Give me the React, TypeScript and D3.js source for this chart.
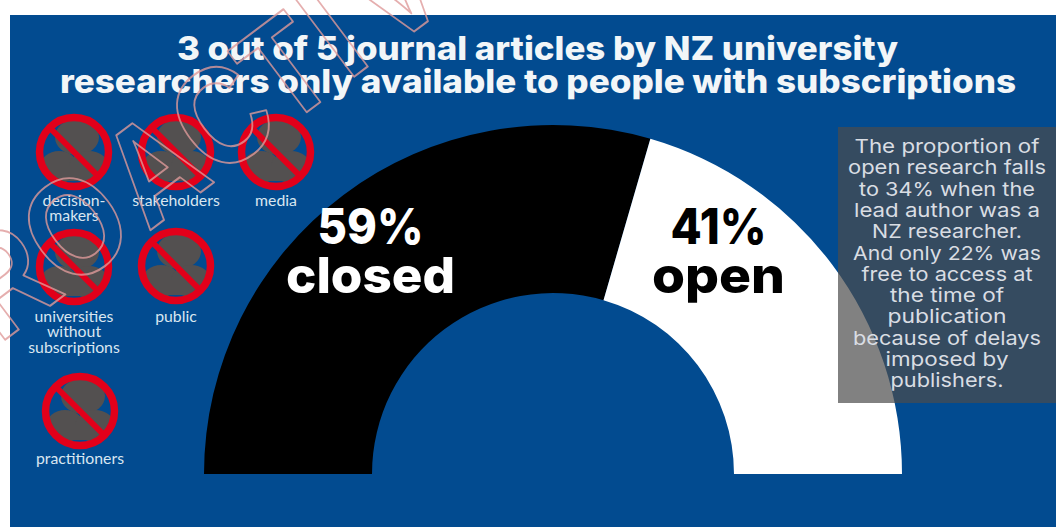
import React from "react";
import * as d3 from "d3";

const width = 1056;
const height = 527;

// Access shares for journal articles
const accessLabels = ["closed", "open"];
const accessShares = [59, 41];
const accessFill = ["#000000", "#ffffff"];
const accessInk = ["#ffffff", "#000000"];

// Audiences shut out by subscriptions
const audienceNames = ["decision-\nmakers", "stakeholders", "media", "universities\nwithout\nsubscriptions", "public", "practitioners"];
const audienceX = [74, 176, 276, 74, 176, 80];
const audienceY = [152, 152, 152, 267, 266, 411];
const audienceLabelY = [206, 206, 206, 322, 322, 464];

const titleLines = [
  "3 out of 5 journal articles by NZ university",
  "researchers only available to people with subscriptions",
];
const noteLines = [
  "The proportion of",
  "open research falls",
  "to 34% when the",
  "lead author was a",
  "NZ researcher.",
  "And only 22% was",
  "free to access at",
  "the time of",
  "publication",
  "because of delays",
  "imposed by",
  "publishers.",
];
const noteWidths = [185, 198, 176, 186, 150, 188, 171, 114, 119, 188, 123, 113];

// Stamp letters and their distance along the stamp's baseline
const stampLetters = ["R", "O", "A", "C", "T", "I", "V"];
const stampOffsets = [-187, -101, 0, 85, 171, 250, 302];

const HEADING_FONT = "Inter, 'Open Sans', sans-serif";
const LABEL_FONT = "Lato, sans-serif";

function NoEntryIcon({ cx, cy, id }: { cx: number; cy: number; id: string }) {
  const r = 34.5;
  return (
    <g transform={`translate(${cx},${cy})`}>
      <clipPath id={id}>
        <circle r={r} />
      </clipPath>
      <g clipPath={`url(#${id})`} fill="#535050">
        <ellipse cx={3} cy={-15} rx={22} ry={18} />
        <ellipse cx={-15} cy={15} rx={19} ry={16} />
        <ellipse cx={15} cy={15} rx={20} ry={16} />
        <rect x={-22} y={14} width={44} height={15} />
      </g>
      <circle r={r} fill="none" stroke="#e2001a" strokeWidth={7.5} />
      <line x1={-24} y1={-24} x2={24} y2={24} stroke="#e2001a" strokeWidth={6} />
    </g>
  );
}

export default function App() {
  const cx = 553;
  const cy = 474;
  const outer = 349;
  const inner = 181;

  const pie = d3
    .pie<number>()
    .sort(null)
    .startAngle(-Math.PI / 2)
    .endAngle(Math.PI / 2);
  const arcPath = d3.arc<d3.PieArcDatum<number>>().innerRadius(inner).outerRadius(outer);
  const arcs = pie(accessShares);

  const bigLabelPos = [
    { x: 370.5, w1: 106, w2: 169 },
    { x: 718.5, w1: 96, w2: 133 },
  ];

  return (
    <svg
      width={width}
      height={height}
      viewBox={`0 0 ${width} ${height}`}
      style={{ position: "fixed", left: 0, top: 0, display: "block" }}
    >
      <rect width={width} height={height} fill="#ffffff" />
      <rect x={10} y={15} width={width - 10} height={height - 15} fill="#024b90" />

      <g fontFamily={HEADING_FONT} fontWeight={800} fontSize={32} fill="#f2f6f8" textAnchor="middle">
        <text x={537.5} y={60} textLength={721} lengthAdjust="spacingAndGlyphs">
          {titleLines[0]}
        </text>
        <text x={538} y={93} textLength={956} lengthAdjust="spacingAndGlyphs">
          {titleLines[1]}
        </text>
      </g>

      <g transform={`translate(${cx},${cy})`}>
        {arcs.map((a, i) => (
          <path key={accessLabels[i]} d={arcPath(a) ?? ""} fill={accessFill[i]} />
        ))}
      </g>

      {accessLabels.map((label, i) => (
        <g
          key={label}
          fontFamily={HEADING_FONT}
          fontWeight={800}
          fontSize={50}
          fill={accessInk[i]}
          textAnchor="middle"
        >
          <text x={bigLabelPos[i].x} y={244} textLength={bigLabelPos[i].w1} lengthAdjust="spacingAndGlyphs">
            {accessShares[i]}%
          </text>
          <text x={bigLabelPos[i].x} y={293} textLength={bigLabelPos[i].w2} lengthAdjust="spacingAndGlyphs">
            {label}
          </text>
        </g>
      ))}

      {audienceNames.map((name, i) => (
        <g key={name}>
          <NoEntryIcon cx={audienceX[i]} cy={audienceY[i]} id={`ban-${i}`} />
          <text
            x={audienceX[i]}
            y={audienceLabelY[i]}
            textAnchor="middle"
            fontFamily={LABEL_FONT}
            fontSize={15.8}
            fill="#d9e6f0"
          >
            {name.split("\n").map((line, j) => (
              <tspan key={line} x={audienceX[i]} dy={j === 0 ? 0 : 15.3}>
                {line}
              </tspan>
            ))}
          </text>
        </g>
      ))}

      <rect x={838} y={127} width={218} height={276} fill="#4b4b4b" opacity={0.7} />
      <g fontFamily={HEADING_FONT} fontWeight={400} fontSize={19} fill="#d9dde3" textAnchor="middle">
        {noteLines.map((line, i) => (
          <text key={line} x={947} y={153 + i * 21.3} textLength={noteWidths[i]} lengthAdjust="spacingAndGlyphs">
            {line}
          </text>
        ))}
      </g>

      {/* Outlined diagonal stamp across the upper left, one condensed letter at a time */}
      <g
        fontFamily="'Liberation Sans', sans-serif"
        fontWeight={700}
        fontSize={140}
        fill="none"
        stroke="#de9a9a"
        strokeOpacity={0.8}
        strokeWidth={2}
        strokeLinejoin="round"
      >
        {stampLetters.map((letter, i) => {
          const angle = -37;
          const rad = (angle * Math.PI) / 180;
          const x = 148 + stampOffsets[i] * Math.cos(rad);
          const y = 232 + stampOffsets[i] * Math.sin(rad);
          return (
            <text key={letter} transform={`translate(${x},${y}) rotate(${angle}) scale(0.85,1)`}>
              {letter}
            </text>
          );
        })}
      </g>
    </svg>
  );
}
